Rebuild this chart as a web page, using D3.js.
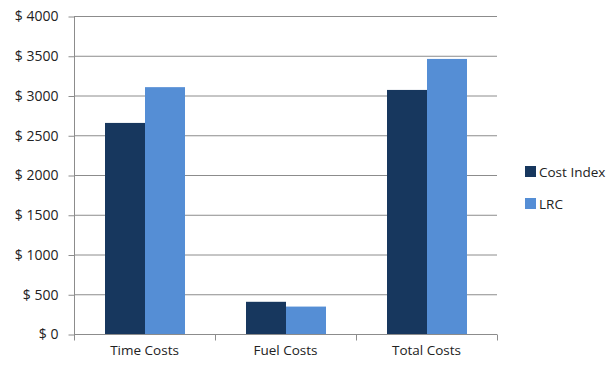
<!DOCTYPE html>
<html>
<head>
<meta charset="utf-8">
<script src="https://cdn.jsdelivr.net/npm/d3@7"></script>
<style>
  body { margin: 0; background: #fff; }
  text { font-family: "Open Sans", sans-serif; fill: #222; }
</style>
</head>
<body>
<div id="chart"></div>
<script>
var categories = ["Time Costs", "Fuel Costs", "Total Costs"];
var seriesNames = ["Cost Index", "LRC"];
var costIndex = [2655, 405, 3070];
var lrc = [3105, 345, 3460];
var yTicks = [0, 500, 1000, 1500, 2000, 2500, 3000, 3500, 4000];

(function() {
    var width = 614, height = 367;
    var margin = {top: 16, left: 74, right: 117, bottom: 33};
    var colors = ["#17375E", "#558ED5"];

    var svg = d3.select('#chart')
        .append('svg')
        .attr('width', width)
        .attr('height', height);

    var x = d3.scaleBand()
        .domain(categories)
        .range([margin.left, width - margin.right])
        .paddingInner(0)
        .paddingOuter(0);

    var inner = d3.scaleBand()
        .domain(seriesNames)
        .range([31, x.bandwidth() - 30]);

    var y = d3.scaleLinear()
        .domain([0, 4000])
        .range([height - margin.bottom, margin.top]);

    // gridlines
    svg.append('g')
        .selectAll('line')
        .data(yTicks.slice(1))
        .enter().append('line')
        .attr('x1', margin.left)
        .attr('x2', width - margin.right)
        .attr('y1', function(d) { return y(d) + 0.5 })
        .attr('y2', function(d) { return y(d) + 0.5 })
        .style('stroke', '#8c8c8c')
        .style('stroke-width', 1);

    var rows = categories.map(function(c, i) {
        return {cat: c, values: [costIndex[i], lrc[i]]};
    });

    var groups = svg.selectAll('.cat')
        .data(rows)
        .enter().append('g')
        .attr('class', 'cat')
        .attr('transform', function(d) { return 'translate(' + x(d.cat) + ',0)' });

    groups.selectAll('rect')
        .data(function(d) { return d.values.map(function(v, j) { return {name: seriesNames[j], v: v, j: j} }) })
        .enter().append('rect')
        .attr('x', function(d) { return inner(d.name) })
        .attr('width', inner.bandwidth())
        .attr('y', function(d) { return y(d.v) })
        .attr('height', function(d) { return y(0) - y(d.v) })
        .style('fill', function(d) { return colors[d.j] });

    // y axis
    var yAxis = d3.axisLeft(y)
        .tickValues(yTicks)
        .tickSize(6)
        .tickPadding(10)
        .tickFormat(function(d) { return '$ ' + d });
    var yg = svg.append('g')
        .attr('transform', 'translate(' + (margin.left + 0.5) + ',0.5)')
        .call(yAxis);
    yg.select('.domain').attr('d', 'M0,' + (margin.top) + 'V' + (height - margin.bottom + 5))
        .style('stroke', '#8c8c8c');
    yg.selectAll('.tick line').style('stroke', '#8c8c8c');
    yg.selectAll('.tick text')
        .style('font-size', '14px')
        .style('font-family', '"Open Sans", sans-serif')
        .style('fill', '#222');

    // x axis
    var xAxis = d3.axisBottom(x).tickSize(0).tickPadding(11);
    var xg = svg.append('g')
        .attr('transform', 'translate(0,' + (y(0) + 0.5) + ')')
        .call(xAxis);
    xg.select('.domain').attr('d', 'M' + margin.left + ',0H' + (width - margin.right))
        .style('stroke', '#8c8c8c');
    xg.selectAll('.tick text')
        .attr('dy', '0.71em')
        .style('font-size', '13.5px')
        .style('font-family', '"Open Sans", sans-serif')
        .style('fill', '#222');
    // boundary ticks between categories
    var bounds = categories.map(function(c) { return x(c) }).concat([x.range()[1]]);
    xg.selectAll('.bound')
        .data(bounds)
        .enter().append('line')
        .attr('class', 'bound')
        .attr('x1', function(d) { return Math.round(d) + 0.5 })
        .attr('x2', function(d) { return Math.round(d) + 0.5 })
        .attr('y1', 0)
        .attr('y2', 6)
        .style('stroke', '#8c8c8c');

    // legend
    var legend = svg.append('g')
        .attr('transform', 'translate(525,166)');
    var items = legend.selectAll('g')
        .data(seriesNames)
        .enter().append('g')
        .attr('transform', function(d, i) { return 'translate(0,' + (i * 32) + ')' });
    items.append('rect')
        .attr('width', 11)
        .attr('height', 11)
        .style('fill', function(d, i) { return colors[i] });
    items.append('text')
        .attr('x', 14)
        .attr('y', 6)
        .attr('dy', '0.35em')
        .style('font-size', '13.5px')
        .text(function(d) { return d });
})();
</script>
</body>
</html>
